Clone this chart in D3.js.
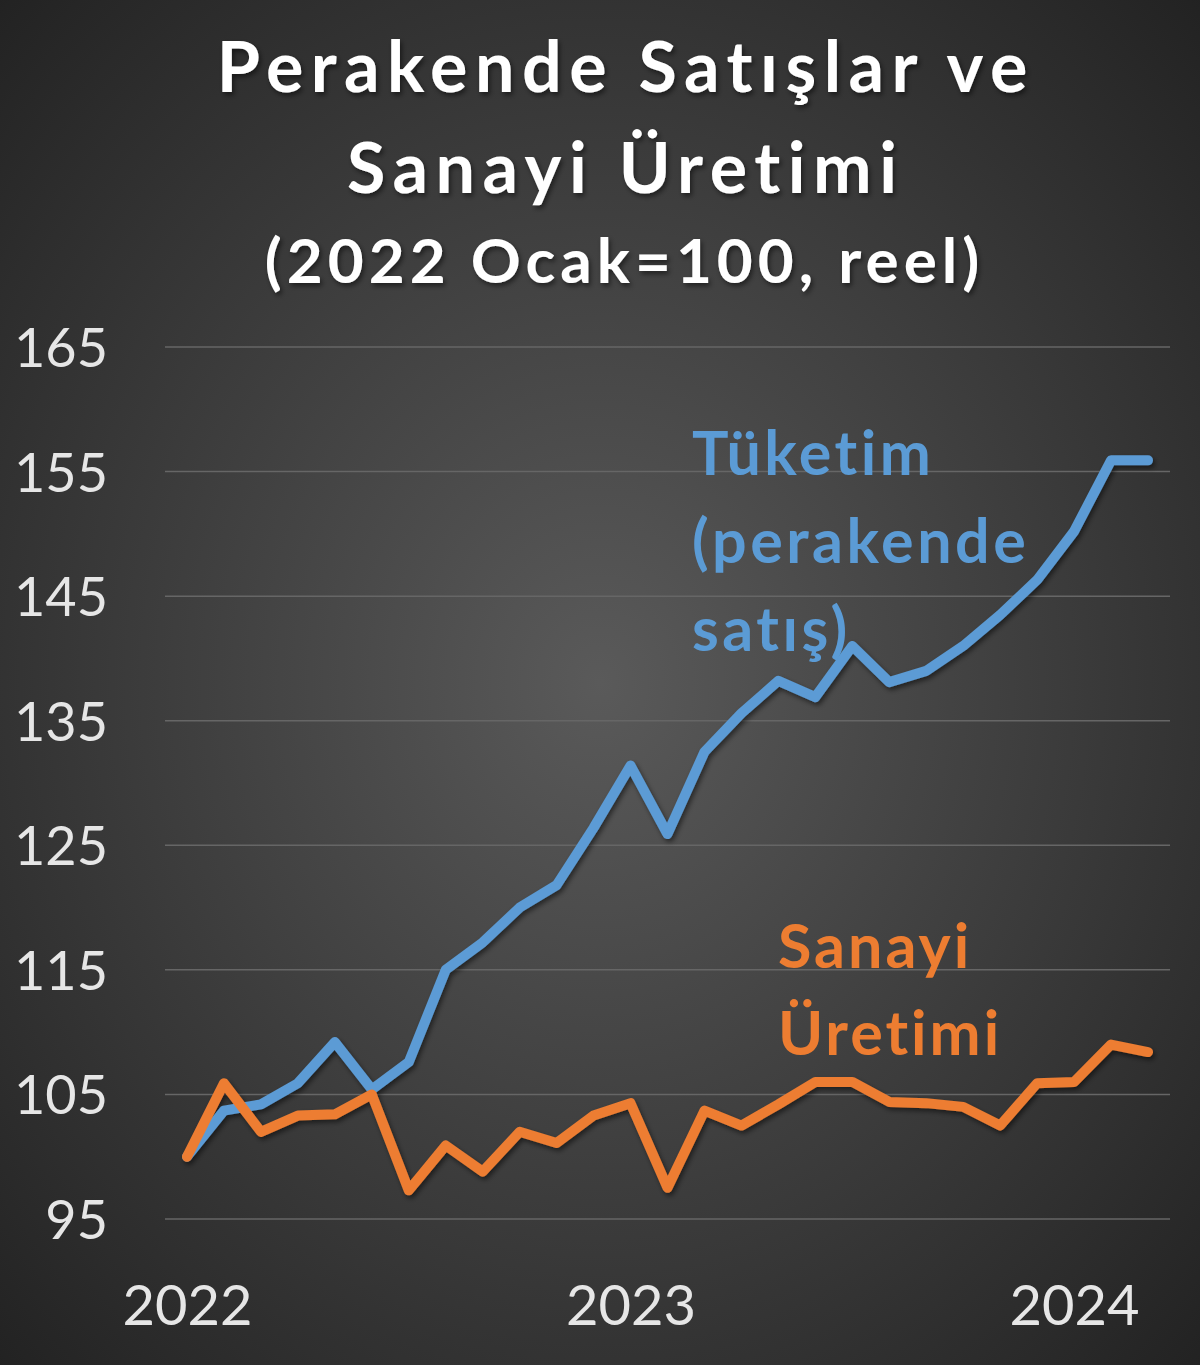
<!DOCTYPE html>
<html>
<head>
<meta charset="utf-8">
<script src="https://cdn.jsdelivr.net/npm/d3@7"></script>
<style>
  html, body { margin: 0; padding: 0; background: #2a2a2a; }
  svg { display: block; }
</style>
</head>
<body>
<div id="chart-area"></div>
<script>
// Monthly data, Jan 2022 = 100 (real)
const months = ["2022-01", "2022-02", "2022-03", "2022-04", "2022-05", "2022-06",
	"2022-07", "2022-08", "2022-09", "2022-10", "2022-11", "2022-12",
	"2023-01", "2023-02", "2023-03", "2023-04", "2023-05", "2023-06",
	"2023-07", "2023-08", "2023-09", "2023-10", "2023-11", "2023-12",
	"2024-01", "2024-02", "2024-03"];

const tuketim = [100, 103.7, 104.2, 105.9, 109.2, 105.4, 107.6, 115.0, 117.2, 120.0, 121.8, 126.4,
	131.4, 125.9, 132.5, 135.6, 138.2, 136.9, 141.0, 138.1, 139.0, 141.0, 143.5, 146.3,
	150.2, 155.9, 155.9];

const sanayi = [100, 105.9, 102.0, 103.3, 103.4, 105.0, 97.3, 100.9, 98.8, 102.0, 101.1, 103.3,
	104.3, 97.5, 103.7, 102.5, 104.2, 106.0, 106.0, 104.4, 104.3, 104.0, 102.5, 105.9,
	106.0, 109.0, 108.4];

const yTicks = [95, 105, 115, 125, 135, 145, 155, 165];
const xTickMonths = ["2022-01", "2023-01", "2024-01"];

const titleLines = ["Perakende Satışlar ve", "Sanayi Üretimi", "(2022 Ocak=100, reel)"];
const tuketimLabel = ["Tüketim", "(perakende", "satış)"];
const sanayiLabel = ["Sanayi", "Üretimi"];

const W = 1200, H = 1365;
const font = "Lato, 'Open Sans', sans-serif";

const svg = d3.select("#chart-area")
	.append("svg")
	.attr("width", W)
	.attr("height", H);

// background
const defs = svg.append("defs");
const grad = defs.append("radialGradient")
	.attr("id", "bg")
	.attr("cx", "50%").attr("cy", "50%").attr("r", "75%");
grad.append("stop").attr("offset", "0%").attr("stop-color", "#5a5a5a");
grad.append("stop").attr("offset", "100%").attr("stop-color", "#1f1f1f");

const shadow = defs.append("filter").attr("id", "shadow")
	.attr("x", "-5%").attr("y", "-5%").attr("width", "110%").attr("height", "110%");
shadow.append("feDropShadow")
	.attr("dx", 2).attr("dy", 3).attr("stdDeviation", 2.5)
	.attr("flood-color", "#000").attr("flood-opacity", 0.5);

svg.append("rect")
	.attr("width", W).attr("height", H)
	.attr("fill", "url(#bg)");

// title (letter-spacing adds a trailing gap, so nudge x by half of it)
const titleSpacing = [7.5, 7.5, 5];
svg.append("g")
	.attr("filter", "url(#shadow)")
	.selectAll("text")
	.data(titleLines)
	.enter()
	.append("text")
	.attr("x", (d, i) => 622 + titleSpacing[i] / 2)
	.attr("y", (d, i) => [92, 193, 283][i])
	.attr("text-anchor", "middle")
	.attr("font-family", font)
	.attr("font-weight", "bold")
	.attr("font-size", (d, i) => i < 2 ? "70px" : "62px")
	.attr("letter-spacing", (d, i) => titleSpacing[i] + "px")
	.attr("fill", "#ffffff")
	.text(d => d);

// scales
const x = d3.scaleLinear()
	.domain([0, months.length - 1])
	.range([187, 1148]);

const y = d3.scaleLinear()
	.domain([95, 165])
	.range([1219, 347]);

// gridlines
svg.append("g")
	.selectAll("line")
	.data(yTicks)
	.enter()
	.append("line")
	.attr("x1", 165)
	.attr("x2", 1170)
	.attr("y1", d => y(d))
	.attr("y2", d => y(d))
	.attr("stroke", "#666666")
	.attr("stroke-width", 1.5);

// y axis
const yAxisCall = d3.axisLeft(y)
	.tickValues(yTicks)
	.tickSize(0)
	.tickPadding(0);
const yAxis = svg.append("g")
	.attr("class", "y-axis")
	.attr("transform", "translate(108, 0)")
	.call(yAxisCall);
yAxis.select(".domain").remove();
yAxis.selectAll("text")
	.attr("font-family", font)
	.attr("font-size", "54px")
	.attr("fill", "#e6e6e6")
	.attr("dy", "0.36em");

// x axis
const xAxisCall = d3.axisBottom(x)
	.tickValues(xTickMonths.map(m => months.indexOf(m)))
	.tickFormat(i => months[i].slice(0, 4))
	.tickSize(0)
	.tickPadding(0);
const xAxis = svg.append("g")
	.attr("class", "x-axis")
	.attr("transform", "translate(0, 1325)")
	.call(xAxisCall);
xAxis.select(".domain").remove();
xAxis.selectAll("text")
	.attr("font-family", font)
	.attr("font-size", "56px")
	.attr("fill", "#e6e6e6")
	.attr("dy", "0");

// lines
const line = d3.line()
	.x((d, i) => x(i))
	.y(d => y(d));

const lines = svg.append("g").attr("filter", "url(#shadow)");
lines.append("path")
	.datum(tuketim)
	.attr("d", line)
	.attr("fill", "none")
	.attr("stroke", "#5b9bd5")
	.attr("stroke-width", 10)
	.attr("stroke-linejoin", "round")
	.attr("stroke-linecap", "round");

lines.append("path")
	.datum(sanayi)
	.attr("d", line)
	.attr("fill", "none")
	.attr("stroke", "#ed7d31")
	.attr("stroke-width", 10)
	.attr("stroke-linejoin", "round")
	.attr("stroke-linecap", "round");

// series labels
svg.append("g")
	.selectAll("text")
	.data(tuketimLabel)
	.enter()
	.append("text")
	.attr("x", 692)
	.attr("y", (d, i) => 475 + i * 88)
	.attr("font-family", font)
	.attr("font-weight", "bold")
	.attr("font-size", "61px")
	.attr("letter-spacing", "3.5px")
	.attr("fill", "#5b9bd5")
	.text(d => d);

svg.append("g")
	.selectAll("text")
	.data(sanayiLabel)
	.enter()
	.append("text")
	.attr("x", 778)
	.attr("y", (d, i) => 968 + i * 87)
	.attr("font-family", font)
	.attr("font-weight", "bold")
	.attr("font-size", "61px")
	.attr("letter-spacing", "3px")
	.attr("fill", "#ed7d31")
	.text(d => d);
</script>
</body>
</html>
